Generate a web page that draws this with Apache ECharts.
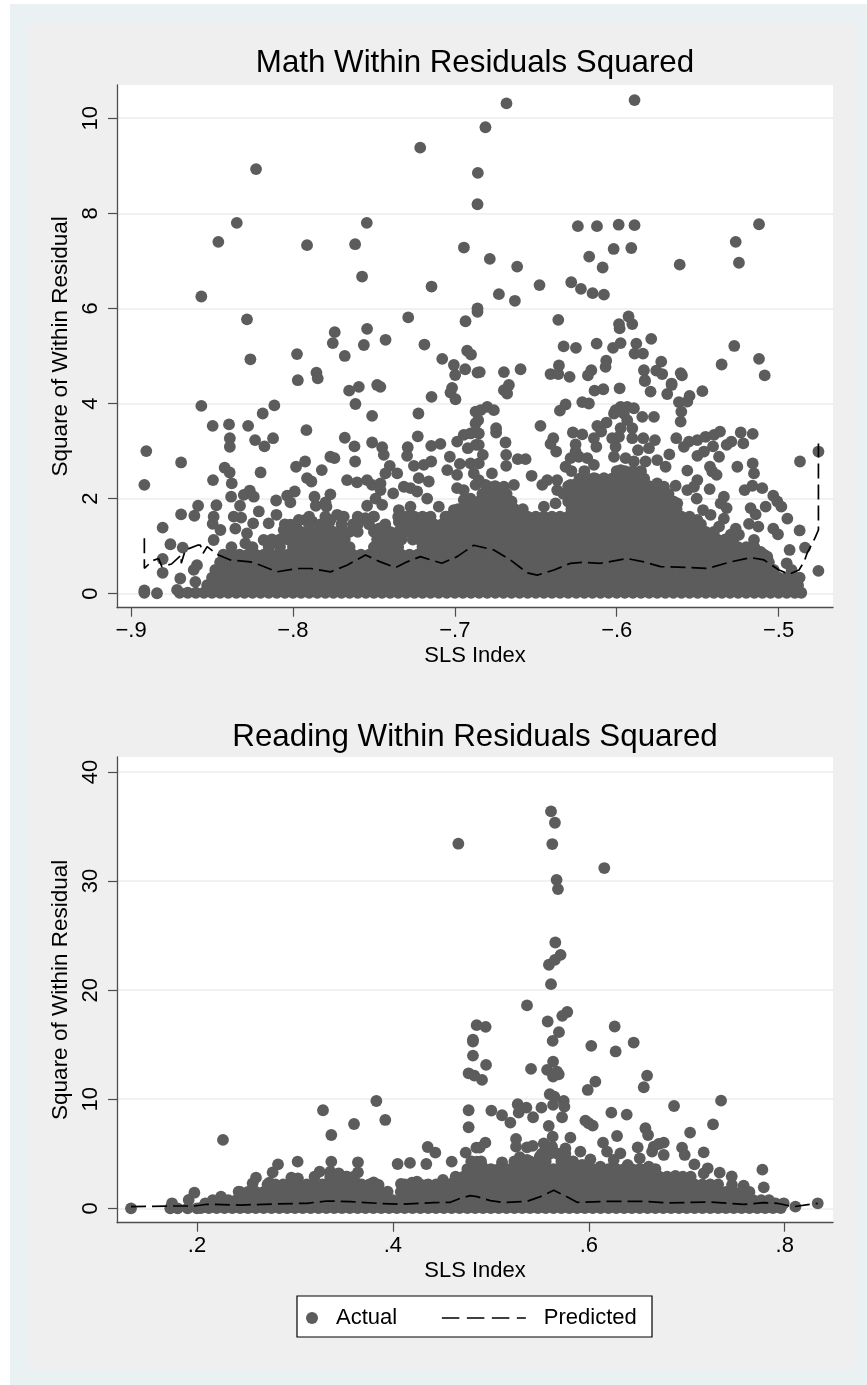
<!DOCTYPE html>
<html><head><meta charset="utf-8">
<style>html,body{margin:0;padding:0;background:#fff}#c{width:867px;height:1385px}</style>
<script src="https://cdn.jsdelivr.net/npm/echarts@6/dist/echarts.min.js"></script>
</head><body><div id="c"></div>
<script>
const mathXTicks=[-.9,-.8,-.7,-.6,-.5];
const mathXLabels=['−.9','−.8','−.7','−.6','−.5'];
const mathYTicks=[0,2,4,6,8,10];
const readXTicks=[.2,.4,.6,.8];
const readXLabels=['.2','.4','.6','.8'];
const readYTicks=[0,10,20,30,40];
const mathTitle='Math Within Residuals Squared';
const readTitle='Reading Within Residuals Squared';
const xName='SLS Index';
const yName='Square of Within Residual';

// Actual, math: separately readable points
const mathPoints=[[-.7214,9.38],[-.8228,8.93],[-.6858,8.85],[-.686,8.19],[-.8347,7.8],[-.7544,7.8],[-.8461,7.4],[-.7913,7.33],[-.7616,7.35],[-.6944,7.28],[-.7573,6.67],[-.7144,6.46],[-.8566,6.25],[-.7288,5.81],[-.8284,5.77],[-.6934,5.73],[-.686,6],[-.686,5.93],[-.7742,5.5],[-.7542,5.57],[-.7428,5.34],[-.7754,5.27],[-.7562,5.23],[-.7188,5.24],[-.6924,5.11],[-.69,5.03],[-.7975,5.04],[-.768,5],[-.7078,4.94],[-.7006,4.81],[-.6936,4.72],[-.6998,4.6],[-.686,4.65],[-.8263,4.93],[-.7855,4.65],[-.7847,4.53],[-.797,4.49],[-.7593,4.35],[-.748,4.39],[-.746,4.35],[-.7017,4.33],
[-.7653,4.27],[-.7614,3.99],[-.7027,4.23],[-.6996,4.09],[-.7144,4.14],[-.7225,3.79],[-.7511,3.74],[-.8566,3.95],[-.8115,3.96],[-.8187,3.79],[-.8496,3.53],[-.8395,3.56],[-.8277,3.53],[-.839,3.27],[-.839,3.09],[-.8234,3.23],[-.8176,3.1],[-.8123,3.27],[-.7917,3.44],[-.768,3.28],[-.762,3.1],[-.7511,3.18],[-.7449,3.08],[-.7439,2.92],[-.7229,3.31],[-.7291,3.08],[-.7295,2.9],[-.7146,3.11],[-.7089,3.15],[-.6986,3.2],[-.6945,3.34],[-.6903,3.37],[-.6872,3.58],[-.6872,3.83],[-.692,3.06],[-.687,3.13],
[-.8906,3],[-.8691,2.76],[-.8918,2.29],[-.8805,1.39],[-.8757,1.04],[-.8681,.97],[-.8805,.73],[-.8805,.44],[-.8918,.07],[-.8918,.02],[-.884,.01],[-.8716,.08],[-.8696,.32],[-.8593,.6],[-.8613,.5],[-.8603,.25],[-.8494,2.39],[-.8422,2.65],[-.8391,2.55],[-.8378,2.32],[-.82,2.55],[-.8382,2.04],[-.8473,1.86],[-.8586,1.85],[-.8609,1.64],[-.8691,1.67],[-.849,1.62],[-.8496,1.47],[-.8448,1.34],[-.849,1.13],[-.8304,2.08],[-.8267,2.17],[-.8242,2.04],[-.8327,1.85],[-.8366,1.62],[-.832,1.6],[-.8211,1.73],[-.8104,1.96],[-.8036,2.06],[-.7989,2.15],[-.8016,1.92],[-.8102,1.66],[-.815,1.48],[-.8246,1.48],[-.8356,1.37],[-.8284,1.27],[-.8294,1.06],
[-.7981,2.67],[-.7925,2.78],[-.7822,2.6],[-.7769,2.88],[-.7744,2.85],[-.7913,2.43],[-.7886,2.36],[-.7616,2.78],[-.7867,2.04],[-.7769,2.09],[-.7859,1.85],[-.7799,1.92],[-.7793,1.83],[-.7666,2.39],[-.7604,2.34],[-.7542,2.39],[-.7511,2.29],[-.7459,2.32],[-.7402,2.69],[-.7356,2.53],[-.7429,2.53],[-.7459,2.18],[-.749,2],[-.7381,2.11],[-.7315,2.25],[-.7274,2.22],[-.7233,2.15],[-.7253,2.69],[-.7192,2.71],[-.7146,2.78],[-.7223,2.43],[-.7161,2.36],[-.7031,2.88],[-.6969,2.73],[-.6903,2.74],[-.7047,2.6],[-.6986,2.5],[-.6883,2.53],[-.7542,1.85],[-.7449,1.87],[-.7501,1.62],[-.7552,1.59],[-.7439,1.41],[-.747,1.37],[-.7346,1.76],[-.7346,1.51],[-.7274,1.83],[-.7171,2],[-.7099,1.83],[-.7264,1.62],[-.7171,1.59],[-.714,1.48],[-.7336,1.27],[-.7254,1.34],[-.7213,1.13],[-.7058,1.62],[-.7006,1.76],[-.6945,1.97],[-.6945,2.18],[-.6986,2.22],[-.6903,2],[-.6872,2.29],[-.6883,1.83],
[-.7727,1.66],[-.7769,1.55],[-.7686,1.62],[-.7583,1.55],[-.8016,1.45],[-.7964,1.55],[-.7923,1.55],[-.7882,1.52],[-.8057,1.34],[-.8181,1.13],[-.8098,1.06],
[-.6681,10.31],[-.589,10.38],[-.6811,9.81],[-.624,7.73],[-.6122,7.73],[-.5988,7.76],[-.589,7.75],[-.5121,7.77],[-.5265,7.4],[-.5245,6.96],[-.5611,6.92],[-.6784,7.04],[-.6615,6.88],[-.6019,7.25],[-.591,7.27],[-.617,7.09],[-.6087,6.86],[-.6477,6.49],[-.6281,6.55],[-.6221,6.41],[-.6149,6.32],[-.6079,6.29],[-.6728,6.3],[-.6629,6.16],[-.6361,5.76],[-.5927,5.83],[-.5986,5.67],[-.5982,5.58],[-.5904,5.67],[-.6328,5.2],[-.6252,5.17],[-.6124,5.26],[-.6023,5.17],[-.5976,5.27],[-.5879,5.26],[-.5787,5.36],[-.589,5.05],[-.5838,5.05],[-.5274,5.21],[-.5725,4.88],[-.6065,4.9],[-.6069,4.77],[-.6357,4.8],[-.6409,4.62],[-.6361,4.62],[-.6291,4.56],[-.6157,4.7],[-.6178,4.59],[-.6594,4.72],[-.6697,4.66],[-.6846,4.66],[-.5832,4.7],[-.5756,4.69],[-.5719,4.62],[-.5605,4.64],[-.5597,4.59],[-.5826,4.49],[-.5661,4.42],[-.5352,4.82],[-.5121,4.94],[-.5086,4.59],
[-.6666,4.39],[-.6697,4.28],[-.6677,4.21],[-.6137,4.27],[-.6083,4.3],[-.5982,4.32],[-.5471,4.26],[-.555,4.16],[-.5564,4.04],[-.5616,4.03],[-.5688,4.2],[-.5661,4.39],[-.5791,4.25],[-.5826,4.47],[-.6213,4.03],[-.6172,4],[-.6316,3.98],[-.6351,3.85],[-.68,3.93],[-.6759,3.86],[-.6841,3.86],[-.6856,3.65],[-.6471,3.53],[-.6745,3.48],[-.6745,3.39],[-.6017,3.79],[-.5976,3.93],[-.5935,3.93],[-.5894,3.9],[-.5956,3.79],[-.6007,3.86],[-.5842,3.72],[-.577,3.72],[-.5935,3.65],[-.5601,3.83],[-.5605,3.62],[-.6063,3.6],[-.612,3.53],[-.6096,3.41],[-.5976,3.48],[-.5904,3.48],[-.5986,3.3],[-.6028,3.27],[-.5904,3.27],[-.5836,3.27],[-.6007,3.09],[-.5764,3.23],[-.5801,3.06],[-.5869,3.02],[-.6271,3.39],[-.6213,3.35],[-.6141,3.27],[-.6126,3.09],[-.6254,3.14],[-.6392,3.27],[-.6409,3.15],[-.6374,2.99],[-.6687,3.18],[-.6683,2.92],[-.6683,2.69],[-.6611,2.83],[-.6563,2.83],[-.6852,3.37],[-.6852,3.13],[-.6827,2.92],[-.6852,2.74],[-.6771,2.53],[-.6526,2.48],
[-.5632,3.27],[-.5585,3.09],[-.5554,3.2],[-.5502,3.23],[-.5451,3.3],[-.5399,3.34],[-.5362,3.41],[-.5405,3.1],[-.5321,3.13],[-.5292,3.2],[-.5234,3.39],[-.516,3.36],[-.5218,3.16],[-.5675,2.93],[-.5502,2.9],[-.5461,2.99],[-.5368,2.88],[-.5255,2.67],[-.516,2.74],[-.5152,2.53],[-.5564,2.59],[-.5424,2.67],[-.541,2.57],[-.5383,2.5],[-.5502,2.39],[-.5564,2.18],[-.5523,2.25],[-.5506,2],[-.5426,2.2],[-.521,2.18],[-.5162,2.27],[-.5101,2.22],[-.5033,2.06],[-.5008,1.94],[-.4983,1.83],[-.4946,1.58],[-.487,1.33],[-.5033,1.37],[-.5004,1.25],[-.4837,.97],[-.4932,.92],[-.495,.64],[-.4868,2.78],[-.4754,2.99],[-.4754,.48],[-.5338,2.04],[-.5358,1.9],[-.5321,1.8],[-.508,1.83],[-.5173,1.8],[-.5142,1.67],[-.5183,1.47],[-.5125,1.41],[-.5467,1.76],[-.542,1.66],[-.5338,1.58],[-.5368,1.41],[-.5502,1.55],[-.5265,1.37],[-.5296,1.24],[-.5245,1.24],[-.5152,1.13],[-.5111,.88],[-.507,.78],
[-.6316,2.67],[-.6285,2.85],[-.6234,2.88],[-.6182,2.85],[-.6141,2.71],[-.6254,2.99],[-.6017,2.88],[-.5945,2.85],[-.5894,2.78],[-.5822,2.78],[-.575,2.81],[-.5698,2.67],[-.5976,2.6],[-.6368,2.39],[-.6429,2.39],[-.646,2.29],[-.645,1.83],[-.6378,1.9],[-.6368,2.18],[-.6285,2.29],[-.6244,2.32],[-.6141,2.43],[-.6079,2.43],[-.6635,2.29],[-.6697,2.25],[-.6759,2.25],[-.6811,2.29],[-.6852,2.39],[-.5636,2.27],[-.575,2.32],[-.5626,1.9],[-.5708,2.25],[-.5811,2.25],[-.5894,2.32],[-.6007,2.46],[-.5925,2.46],[-.5852,2.53]];

// Actual, math: dense mass, read row by row (first number is the residual, the rest are index values)
const mathRows=[
[.02,-.87,-.865,-.86,-.855,-.85,-.845,-.84,-.835,-.83,-.825,-.82,-.815,-.81,-.805,-.8,-.795,-.79,-.785,-.78,-.775,-.77,-.765,-.76,-.755,-.75,-.745,-.74,-.735,-.73,-.725,-.72,-.715,-.71,-.705,-.7,-.695,-.69,-.685,-.68,-.675,-.67,-.665,-.66,-.655,-.65,-.645,-.64,-.635,-.63,-.625,-.62,-.615,-.61,-.605,-.6,-.595,-.59,-.585,-.58,-.575,-.57,-.565,-.56,-.555,-.55,-.545,-.54,-.535,-.53,-.525,-.52,-.515,-.51,-.505,-.5,-.495,-.49,-.486],
[.18,-.853,-.848,-.843,-.838,-.833,-.828,-.823,-.818,-.813,-.808,-.803,-.798,-.793,-.788,-.783,-.778,-.773,-.768,-.763,-.758,-.753,-.748,-.743,-.738,-.733,-.728,-.723,-.718,-.713,-.708,-.703,-.698,-.693,-.688,-.683,-.678,-.673,-.668,-.663,-.658,-.653,-.648,-.643,-.638,-.633,-.628,-.623,-.618,-.613,-.608,-.603,-.598,-.593,-.588,-.583,-.578,-.573,-.568,-.563,-.558,-.553,-.548,-.543,-.538,-.533,-.528,-.523,-.518,-.513,-.508,-.503,-.498,-.493,-.488],
[.34,-.85,-.845,-.84,-.835,-.83,-.825,-.82,-.815,-.81,-.805,-.8,-.795,-.79,-.785,-.78,-.775,-.77,-.765,-.76,-.755,-.75,-.745,-.74,-.735,-.73,-.725,-.72,-.715,-.71,-.705,-.7,-.695,-.69,-.685,-.68,-.675,-.67,-.665,-.66,-.655,-.65,-.645,-.64,-.635,-.63,-.625,-.62,-.615,-.61,-.605,-.6,-.595,-.59,-.585,-.58,-.575,-.57,-.565,-.56,-.555,-.55,-.545,-.54,-.535,-.53,-.525,-.52,-.515,-.51,-.505,-.5,-.495,-.49,-.487],
[.5,-.848,-.843,-.838,-.833,-.828,-.823,-.818,-.813,-.808,-.803,-.798,-.793,-.788,-.783,-.778,-.773,-.768,-.763,-.758,-.753,-.748,-.743,-.738,-.733,-.728,-.723,-.718,-.713,-.708,-.703,-.698,-.693,-.688,-.683,-.678,-.673,-.668,-.663,-.658,-.653,-.648,-.643,-.638,-.633,-.628,-.623,-.618,-.613,-.608,-.603,-.598,-.593,-.588,-.583,-.578,-.573,-.568,-.563,-.558,-.553,-.548,-.543,-.538,-.533,-.528,-.523,-.518,-.513,-.508,-.503,-.492],
[.66,-.845,-.84,-.835,-.83,-.825,-.82,-.815,-.81,-.805,-.8,-.795,-.79,-.785,-.78,-.775,-.77,-.765,-.76,-.755,-.75,-.745,-.74,-.735,-.73,-.725,-.72,-.715,-.71,-.705,-.7,-.695,-.69,-.685,-.68,-.675,-.67,-.665,-.66,-.655,-.65,-.645,-.64,-.635,-.63,-.625,-.62,-.615,-.61,-.605,-.6,-.595,-.59,-.585,-.58,-.575,-.57,-.565,-.56,-.555,-.55,-.545,-.54,-.535,-.53,-.525,-.52,-.515,-.51,-.506],
[.82,-.843,-.838,-.833,-.828,-.823,-.818,-.813,-.808,-.803,-.798,-.793,-.788,-.783,-.778,-.773,-.768,-.763,-.758,-.753,-.748,-.743,-.738,-.733,-.728,-.723,-.718,-.713,-.708,-.703,-.698,-.693,-.688,-.683,-.678,-.673,-.668,-.663,-.658,-.653,-.648,-.643,-.638,-.633,-.628,-.623,-.618,-.613,-.608,-.603,-.598,-.593,-.588,-.583,-.578,-.573,-.568,-.563,-.558,-.553,-.548,-.543,-.538,-.533,-.528,-.523,-.518,-.513,-.509],
[.98,-.838,-.825,-.815,-.808,-.8,-.795,-.79,-.785,-.78,-.775,-.77,-.765,-.75,-.745,-.74,-.735,-.72,-.715,-.71,-.705,-.7,-.695,-.69,-.685,-.68,-.675,-.67,-.665,-.66,-.655,-.65,-.645,-.64,-.635,-.63,-.625,-.62,-.615,-.61,-.605,-.6,-.595,-.59,-.585,-.58,-.575,-.57,-.565,-.56,-.555,-.55,-.545,-.54,-.535,-.53,-.525,-.52,-.515],
[1.14,-.813,-.808,-.803,-.798,-.793,-.788,-.783,-.778,-.773,-.768,-.748,-.743,-.738,-.733,-.726,-.718,-.713,-.708,-.703,-.698,-.693,-.688,-.683,-.678,-.673,-.668,-.663,-.658,-.653,-.648,-.643,-.638,-.633,-.628,-.623,-.618,-.613,-.608,-.603,-.598,-.593,-.588,-.583,-.578,-.573,-.568,-.563,-.558,-.553,-.548,-.543,-.538,-.533,-.528],
[1.3,-.8,-.795,-.79,-.785,-.78,-.775,-.77,-.765,-.76,-.75,-.745,-.74,-.735,-.73,-.725,-.72,-.715,-.71,-.705,-.7,-.695,-.69,-.685,-.68,-.675,-.67,-.665,-.66,-.655,-.65,-.645,-.64,-.635,-.63,-.625,-.62,-.615,-.61,-.605,-.6,-.595,-.59,-.585,-.58,-.575,-.57,-.565,-.56,-.555,-.55,-.545,-.54],
[1.46,-.805,-.798,-.79,-.783,-.778,-.77,-.763,-.76,-.753,-.743,-.733,-.728,-.723,-.718,-.713,-.708,-.703,-.698,-.693,-.688,-.683,-.678,-.673,-.668,-.663,-.658,-.653,-.648,-.643,-.638,-.633,-.628,-.623,-.618,-.613,-.608,-.603,-.598,-.593,-.588,-.583,-.578,-.573,-.568,-.563,-.558,-.553,-.548],
[1.62,-.79,-.78,-.77,-.76,-.75,-.735,-.73,-.725,-.72,-.715,-.705,-.7,-.695,-.69,-.685,-.68,-.675,-.67,-.665,-.66,-.655,-.65,-.645,-.64,-.635,-.63,-.625,-.62,-.615,-.61,-.605,-.6,-.595,-.59,-.585,-.58,-.575,-.57,-.565,-.56,-.555],
[1.78,-.698,-.693,-.688,-.683,-.678,-.673,-.668,-.663,-.658,-.628,-.623,-.618,-.613,-.608,-.603,-.598,-.593,-.588,-.583,-.578,-.573,-.568,-.563],
[1.94,-.69,-.685,-.68,-.675,-.67,-.665,-.63,-.625,-.62,-.615,-.61,-.605,-.6,-.595,-.59,-.585,-.58,-.575,-.57,-.565],
[2.1,-.683,-.678,-.673,-.668,-.633,-.628,-.623,-.618,-.613,-.608,-.603,-.598,-.593,-.588,-.583,-.578,-.573,-.568],
[2.26,-.68,-.675,-.63,-.625,-.62,-.615,-.61,-.605,-.6,-.595,-.59,-.585,-.58,-.575],
[2.42,-.623,-.618,-.613,-.603,-.598,-.593,-.588,-.583],
[2.58,-.628,-.62,-.6,-.595,-.59,-.585]];

const mathPredX=[-.8918,-.8918,-.8867,-.883,-.881,-.875,-.869,-.869,-.8665,-.859,-.8572,-.8555,-.853,-.849,-.846,-.8387,-.8263,-.82,-.81,-.7975,-.789,-.7768,-.7666,-.7552,-.746,-.7367,-.7295,-.7213,-.708,-.6986,-.6883,-.6759,-.6656,-.6553,-.6491,-.6388,-.6285,-.6203,-.61,-.5935,-.5832,-.5729,-.5543,-.5441,-.5296,-.5173,-.509,-.4998,-.4936,-.4874,-.4843,-.4823,-.4777,-.4754,-.4754];
const mathPredY=[1.165,.534,.695,.74,.57,.625,.815,.64,.92,1.02,1.02,.85,.99,.885,.815,.71,.67,.6,.46,.53,.53,.46,.6,.815,.67,.55,.67,.78,.64,.78,1.02,.92,.71,.44,.39,.5,.64,.66,.64,.74,.67,.57,.55,.53,.67,.76,.71,.5,.41,.5,.67,.86,1.16,1.34,3.16];

const readPoints=[[.5614,36.39],[.5654,35.35],[.4668,33.43],[.5627,33.4],[.6158,31.2],[.5671,30.12],[.5685,29.27],[.5658,24.37],[.5712,23.24],[.5654,22.78],[.5593,22.33],[.5614,20.55],[.5369,18.6],[.578,18],[.5729,17.65],[.558,17.13],[.6264,16.67],[.5695,16.15],[.5631,15.35],[.4855,16.79],[.4947,16.64],[.4817,15.47],[.6458,15.2],[.6025,14.9],[.6274,14.38],
[.1326,0],[.1745,.46],[.1727,0],[.1802,0],[.1973,1.43],[.1915,.76],[.1904,0],[.2,0],[.2265,6.27],[.3286,8.99],[.3371,6.72],[.3603,7.73],[.3831,9.84],[.3922,8.1],[.2827,4.03],[.2772,3.3],[.2602,2.81],[.2568,2.29],[.2738,2.35],[.3027,4.28],[.2963,2.81],[.303,2.75],[.2919,1.83],[.3252,3.36],[.3371,4.28],[.3361,3.36],[.3446,3.21],[.3531,2.9],[.3643,4.22],[.3643,3.3],[.3361,2.6],[.3633,2.29],[.3803,2.38],[.3854,2.14],[.3718,1.98],[.3946,1.53],[.4048,4.06],[.4174,4.16],[.4341,4.06],[.46,4.28],[.4082,2.23],[.4195,2.35],[.4246,2.44],[.4348,2.14],[.4511,2.6],[.4603,2.29],[.4355,5.62],[.4433,5.1],[.4743,5.1],[.4852,5.56],[.4773,7.43],[.4773,8.99],[.4773,12.38],[.4831,12.17],[.4817,14],[.4817,15.29],[.4807,4.28],[.4824,3.67],[.4756,2.6],[.4841,3.21],[.2425,1.53],[.2245,1.07],[.2153,.55],[.2085,.46],
[.4951,13.15],[.491,11.77],[.541,12.78],[.5635,13.45],[.5574,12.69],[.5676,12.53],[.5635,12.08],[.5693,12.29],[.6067,11.62],[.5989,10.85],[.6595,12.17],[.6561,11.1],[.5601,10.46],[.5648,10.24],[.5744,9.84],[.5635,9.48],[.5751,9.32],[.5274,9.54],[.5363,9.23],[.5284,8.77],[.5516,9.23],[.5431,8.35],[.5727,8.35],[.5005,8.96],[.5114,8.53],[.5199,7.86],[.687,9.38],[.735,9.87],[.623,8.77],[.6387,8.59],[.5965,8.04],[.5999,7.8],[.604,7.58],[.6578,7.34],[.6605,6.72],[.7268,7.7],[.7034,6.94],[.5591,7.55],[.5631,6.57],[.5812,6.48],[.6288,6.63],[.5257,6.36],[.5257,5.65],[.5369,5.59],[.5427,5.72],[.554,5.96],[.5557,5.35],[.5625,5.65],[.5761,5.5],[.5914,5.2],[.6145,6.02],[.4944,6.02],[.4886,5.56],[.6186,5.2],[.6322,5.04],[.6499,5.59],[.652,4.58],[.6663,5.65],[.6765,6.02],[.6646,5.2],[.6765,4.89],[.6714,5.9],[.6952,5.56],[.6979,4.89],[.7173,5.13],[.7078,4.03],[.7214,3.67],[.7173,3.21],[.7336,3.27],[.7459,2.93],[.7772,3.54],[.7786,1.92],[.7581,2.08],[.7462,2.14],[.5114,4.22],[.5199,3.51],[.5063,3.2],[.5295,4.68],[.5369,4.43],[.5499,4.74],[.491,3.88],[.4859,4.28],[.6397,3.97],[.6612,3.82],[.6544,3.51],[.6697,2.9],[.6884,2.96],[.6016,4.49],[.6254,4.43],[.6118,3.82],[.6237,3.67],[.5931,3.97],[.8109,.15],[.799,.46],[.7905,.46],[.8337,.46]];

const readRows=[
[.03,.204,.212,.22,.228,.236,.244,.252,.26,.268,.276,.284,.292,.3,.308,.316,.324,.332,.34,.348,.356,.364,.372,.38,.388,.396,.404,.412,.42,.428,.436,.444,.452,.46,.468,.476,.484,.492,.5,.508,.516,.524,.532,.54,.548,.556,.564,.572,.58,.588,.596,.604,.612,.62,.628,.636,.644,.652,.66,.668,.676,.684,.692,.7,.708,.716,.724,.732,.74,.748,.756,.764,.772,.78,.788,.796],
[.75,.216,.224,.232,.24,.248,.256,.264,.272,.28,.288,.296,.304,.312,.32,.328,.336,.344,.352,.36,.368,.376,.384,.392,.4,.408,.416,.424,.432,.44,.448,.456,.464,.472,.48,.488,.496,.504,.512,.52,.528,.536,.544,.552,.56,.568,.576,.584,.592,.6,.608,.616,.624,.632,.64,.648,.656,.664,.672,.68,.688,.696,.704,.712,.72,.728,.736,.744,.752,.76,.768,.776,.784],
[1.5,.244,.252,.26,.268,.276,.284,.292,.3,.308,.316,.324,.332,.34,.348,.356,.364,.372,.38,.388,.408,.416,.42,.428,.436,.444,.452,.46,.468,.476,.484,.492,.5,.508,.516,.524,.532,.54,.548,.556,.564,.572,.58,.588,.596,.604,.612,.62,.628,.636,.644,.652,.66,.668,.676,.684,.692,.7,.708,.716,.724,.732,.74,.748,.756,.764],
[2.2,.272,.28,.288,.296,.304,.312,.32,.328,.336,.344,.352,.36,.368,.376,.412,.42,.428,.436,.444,.452,.46,.468,.476,.484,.492,.5,.508,.516,.524,.532,.54,.548,.556,.564,.572,.58,.588,.596,.604,.612,.62,.628,.636,.644,.652,.66,.668,.676,.684,.692,.7,.708,.716,.724,.732],
[2.9,.32,.336,.344,.352,.36,.464,.472,.48,.488,.496,.504,.512,.52,.528,.536,.544,.552,.56,.568,.576,.584,.592,.6,.608,.616,.624,.632,.64,.648,.656,.664,.672,.68,.688,.696,.704],
[3.6,.476,.484,.492,.5,.508,.516,.524,.532,.54,.548,.556,.564,.572,.58,.588,.596,.604,.612,.62,.628,.636,.644,.652,.66,.668],
[4.3,.48,.49,.524,.532,.54,.548,.556,.572,.58,.584],
[5,.552,.56,.568,.576]];

const readPredX=[.1326,.1761,.1973,.2102,.2442,.2782,.3122,.3327,.3565,.3837,.4076,.4416,.4586,.4688,.479,.4858,.4995,.5131,.5369,.5506,.5642,.5761,.588,.622,.6561,.6799,.7241,.7581,.7786,.7922,.8092,.8337];
const readPredY=[.15,.21,.21,.37,.3,.39,.46,.67,.61,.46,.37,.52,.55,.91,1.16,1.07,.7,.52,.64,1.07,1.65,1.13,.55,.64,.64,.49,.58,.36,.52,.46,.15,.46];

const flatten=(pts,rows)=>pts.concat(rows.flatMap(r=>r.slice(1).map(x=>[x,r[0]])));
const zip=(a,b)=>a.map((x,i)=>[x,b[i]]);

const DOT='#5c5c5c',AX='#4d4d4d',GRID='#ececec',FF='"Liberation Sans",Arial,sans-serif';
function xAxis(i,min,max,ticks,labels,gap){return{type:'value',gridIndex:i,min,max,name:xName,nameLocation:'middle',nameGap:gap,
 nameTextStyle:{fontFamily:FF,fontSize:22,color:'#000'},
 axisLine:{show:true,onZero:false,lineStyle:{color:AX,width:1.3}},
 axisTick:{show:true,length:9,customValues:ticks,lineStyle:{color:AX,width:1.2}},
 axisLabel:{customValues:ticks,margin:12,fontFamily:FF,fontSize:22,color:'#000',formatter:v=>labels[ticks.findIndex(t=>Math.abs(t-v)<1e-6)]},
 splitLine:{show:false}};}
function yAxis(i,min,max,ticks,gap){return{type:'value',gridIndex:i,min,max,name:yName,nameLocation:'middle',nameGap:gap,
 nameTextStyle:{fontFamily:FF,fontSize:22.5,color:'#000'},
 axisLine:{show:true,onZero:false,lineStyle:{color:AX,width:1.3}},
 axisTick:{show:true,length:9,customValues:ticks,lineStyle:{color:AX,width:1.2}},
 axisLabel:{customValues:ticks,rotate:90,margin:15,fontFamily:FF,fontSize:22,color:'#000'},
 splitLine:{show:true,lineStyle:{color:GRID,width:1.5}}};}
function dots(i,data){return{name:'Actual',type:'scatter',xAxisIndex:i,yAxisIndex:i,data,symbol:'circle',symbolSize:11.8,itemStyle:{color:DOT,opacity:1},z:3,clip:false};}
function pred(i,data){return{name:'Predicted',type:'line',xAxisIndex:i,yAxisIndex:i,data,symbol:'none',showSymbol:false,smooth:false,lineStyle:{color:'#000',width:1.7,type:[15,6]},itemStyle:{color:'#000'},z:4};}

const chart=echarts.init(document.getElementById('c'),null,{renderer:'canvas'});
chart.setOption({animation:false,backgroundColor:'#fff',
 graphic:[
  {type:'rect',shape:{x:10,y:4,width:857,height:1381},style:{fill:'#e9f1f3'},z:-10,silent:true},
  {type:'rect',shape:{x:28,y:23,width:827,height:1347},style:{fill:'#efefef'},z:-9,silent:true},
  {type:'rect',shape:{x:297,y:1296,width:355,height:41},style:{fill:'#fff',stroke:'#000',lineWidth:1.2},z:-8,silent:true}],
 title:[
  {text:mathTitle,left:470,top:43,textAlign:'center',textStyle:{fontFamily:FF,fontSize:31.3,fontWeight:'normal',color:'#000'}},
  {text:readTitle,left:470,top:717,textAlign:'center',textStyle:{fontFamily:FF,fontSize:31.3,fontWeight:'normal',color:'#000'}}],
 grid:[
  {left:117,top:85,width:716,height:522.7,show:true,backgroundColor:'#fff',borderWidth:0,containLabel:false},
  {left:117,top:757,width:716,height:465.7,show:true,backgroundColor:'#fff',borderWidth:0,containLabel:false}],
 xAxis:[xAxis(0,-.9087,-.4664,mathXTicks,mathXLabels,37),xAxis(1,.1183,.8493,readXTicks,readXLabels,37)],
 yAxis:[yAxis(0,-.294,10.698,mathYTicks,36),yAxis(1,-1.32,41.38,readYTicks,36)],
 legend:[
  {data:['Actual'],left:301,top:1307,selectedMode:false,itemWidth:12,itemHeight:12,itemGap:0,padding:[0,5],textStyle:{fontFamily:FF,fontSize:22,color:'#000',padding:[0,0,0,13]}},
  {data:['Predicted'],left:436,top:1307,selectedMode:false,itemWidth:84,itemHeight:12,itemGap:0,padding:[0,5],itemStyle:{opacity:0},lineStyle:{type:[17.5,7.5],width:1.7,color:'#000'},textStyle:{fontFamily:FF,fontSize:22,color:'#000',padding:[0,0,0,13]}}],
 series:[dots(0,flatten(mathPoints,mathRows)),pred(0,zip(mathPredX,mathPredY)),dots(1,flatten(readPoints,readRows)),pred(1,zip(readPredX,readPredY))]
});
</script></body></html>
